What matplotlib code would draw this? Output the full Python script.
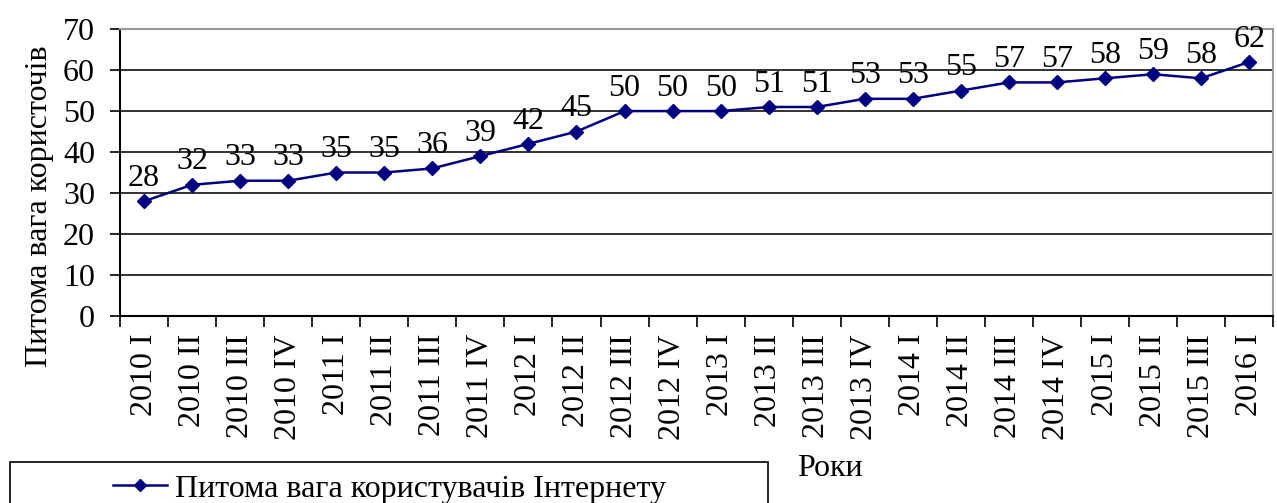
import matplotlib.pyplot as plt
from matplotlib.patches import Rectangle
from matplotlib.lines import Line2D

plt.rcParams['font.family'] = ['Liberation Serif', 'DejaVu Serif']

quarters = ['2010 I', '2010 II', '2010 III', '2010 IV',
            '2011 I', '2011 II', '2011 III', '2011 IV',
            '2012 I', '2012 II', '2012 III', '2012 IV',
            '2013 I', '2013 II', '2013 III', '2013 IV',
            '2014 I', '2014 II', '2014 III', '2014 IV',
            '2015 I', '2015 II', '2015 III', '2016 I']
share = [28, 32, 33, 33, 35, 35, 36, 39, 42, 45, 50, 50,
         50, 51, 51, 53, 53, 55, 57, 57, 58, 59, 58, 62]
yticks = [0, 10, 20, 30, 40, 50, 60, 70]
series_name = 'Питома вага користувачів Інтернету'
line_col = '#000080'

fig = plt.figure(figsize=(12.77, 5.03), dpi=100)
ax = fig.add_axes([0.094, 0.372, 0.903, 0.570])

x = list(range(len(share)))
ax.plot(x, share, color=line_col, lw=1.8, marker='D', ms=7)
for xi, v in zip(x, share):
    ax.annotate(str(v), (xi, v), xytext=(0, 6), textcoords='offset points',
                ha='center', va='bottom', fontsize=23)

ax.set_xlim(-0.5, len(share) - 0.5)
ax.set_ylim(0, 70)
ax.set_yticks(yticks)
ax.tick_params(axis='y', labelsize=23, length=7, width=1.2, direction='out', pad=11)
ax.yaxis.grid(True, color='#222222', lw=1.3)
ax.set_axisbelow(True)

# category labels centred, ticks at category boundaries
ax.set_xticks(x)
ax.set_xticklabels(quarters, rotation=90, fontsize=23)
ax.tick_params(axis='x', which='major', length=0, pad=13)
ax.set_xticks([i - 0.5 for i in range(len(share) + 1)], minor=True)
ax.tick_params(axis='x', which='minor', length=8, width=1.2, direction='out')

for s in ['left', 'bottom']:
    ax.spines[s].set_color('black')
    ax.spines[s].set_linewidth(1.5)
for s in ['top', 'right']:
    ax.spines[s].set_color('#999999')
    ax.spines[s].set_linewidth(1.5)

fig.text(0.031, 0.59, 'Питома вага користочів', rotation=90,
         ha='center', va='center', fontsize=23)
fig.text(0.650, 0.068, 'Роки', ha='center', va='center', fontsize=23)

# legend box
fig.patches.append(Rectangle((10 / 1277, -0.05), 758 / 1277, 0.05 + 41 / 503,
                             transform=fig.transFigure, fill=False,
                             edgecolor='black', lw=1.2))
h = Line2D([], [], color=line_col, lw=1.8, marker='D', ms=6)
fig.legend([h], [series_name], loc='center left', frameon=False,
           bbox_to_anchor=(0.066, 0.028), fontsize=23,
           handlelength=1.7, handletextpad=0.25)

fig.savefig('out.png', dpi=100)
